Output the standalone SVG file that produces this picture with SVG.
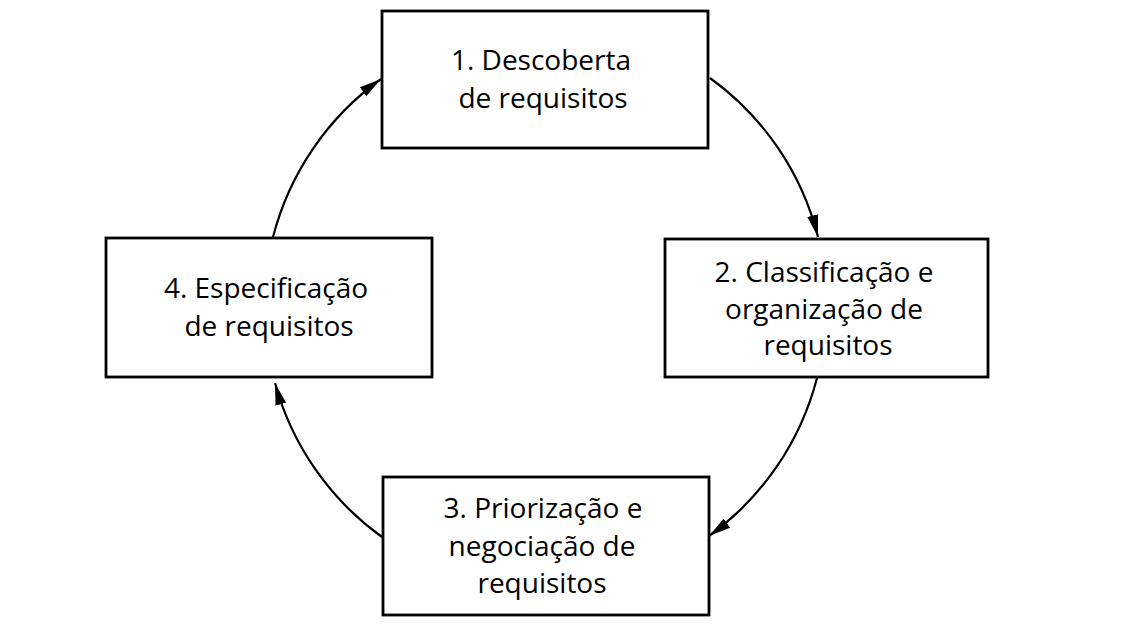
<svg xmlns="http://www.w3.org/2000/svg" width="1134" height="633" viewBox="0 0 1134 633">
<style>
.box{fill:#fff;stroke:#000;stroke-width:2.8}
.lbl{font-family:"Open Sans","Noto Sans","Liberation Sans",sans-serif;font-size:28px;font-weight:500;fill:#000;text-anchor:middle}
.arc{fill:none;stroke:#000;stroke-width:2.2}
</style>
<defs>
<marker id="ah" markerUnits="userSpaceOnUse" markerWidth="24" markerHeight="12" refX="22" refY="5.5" orient="auto">
<path d="M0,0 L22,5.5 L0,11 z" fill="#000"/>
</marker>
</defs>
<rect width="1134" height="633" fill="#fff"/>
<g id="connectors">
<path class="arc" d="M710,78 A281,281 0 0 1 818,237" marker-end="url(#ah)"/>
<path class="arc" d="M817,378 A281,281 0 0 1 709,536" marker-end="url(#ah)"/>
<path class="arc" d="M382,537 A281,281 0 0 1 275,383" marker-end="url(#ah)"/>
<path class="arc" d="M273,237 A281,281 0 0 1 381,79" marker-end="url(#ah)"/>
</g>
<g id="node1">
<rect class="box" x="382" y="11" width="326" height="137"/>
<text class="lbl" x="541" y="70">1. Descoberta</text>
<text class="lbl" x="543" y="108">de requisitos</text>
</g>
<g id="node2">
<rect class="box" x="665" y="239" width="323" height="138"/>
<text class="lbl" x="824" y="282">2. Classificação e</text>
<text class="lbl" x="824" y="319">organização de</text>
<text class="lbl" x="828" y="355">requisitos</text>
</g>
<g id="node3">
<rect class="box" x="383" y="477" width="326" height="138"/>
<text class="lbl" x="543" y="518">3. Priorização e</text>
<text class="lbl" x="542" y="556">negociação de</text>
<text class="lbl" x="542" y="593">requisitos</text>
</g>
<g id="node4">
<rect class="box" x="106" y="238" width="326" height="139"/>
<text class="lbl" x="266" y="298">4. Especificação</text>
<text class="lbl" x="269" y="336">de requisitos</text>
</g>
</svg>
